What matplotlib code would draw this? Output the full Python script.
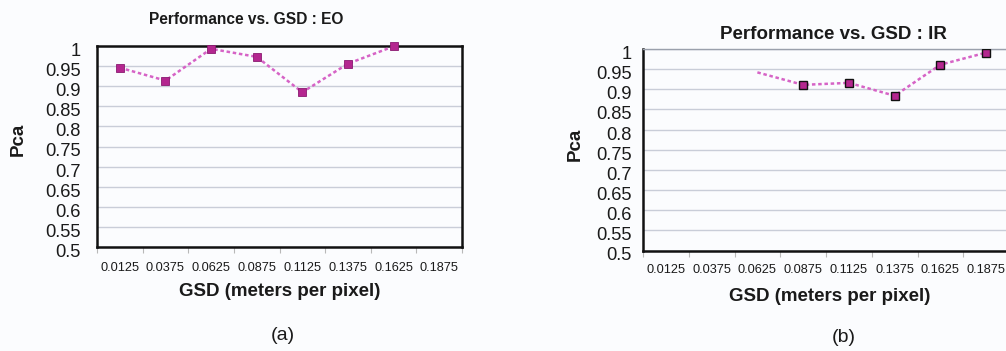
import numpy as np
import matplotlib
matplotlib.use("Agg")
import matplotlib.pyplot as plt
from matplotlib.transforms import ScaledTranslation

plt.rcParams['font.family'] = ['Liberation Sans', 'DejaVu Sans']

gsd_labels = ['0.0125', '0.0375', '0.0625', '0.0875', '0.1125', '0.1375', '0.1625', '0.1875']
eo_pca = [0.946, 0.914, 0.993, 0.973, 0.885, 0.956, 0.999, np.nan]
ir_pca = [np.nan, np.nan, 0.942, 0.911, 0.916, 0.884, 0.961, 0.991]
ir_marked = [3, 4, 5, 6, 7]
y_ticks = [0.5, 0.55, 0.6, 0.65, 0.7, 0.75, 0.8, 0.85, 0.9, 0.95, 1.0]
y_labels = ['0.5', '0.55', '0.6', '0.65', '0.7', '0.75', '0.8', '0.85', '0.9', '0.95', '1']

BG = '#fbfcfe'
GRID = '#c9cdd8'
LINE = '#d663c6'
MARK = '#b4268f'
TXT = '#1a1a1a'

fig = plt.figure(figsize=(10.06, 3.51), dpi=100, facecolor=BG)

ax_eo = fig.add_axes([97/1006, 1-247/351, 365/1006, 201/351])
ax_ir = fig.add_axes([643/1006, 1-250.5/351, 366/1006, 201.5/351])

def style_axes(ax, ytick_pad, xtick_pad):
    ax.set_facecolor(BG)
    n = len(gsd_labels)
    x = np.arange(n)
    ax.set_xlim(-0.5, n - 0.5)
    ax.set_ylim(0.5, 1.0)
    ax.set_xticks(x)
    ax.set_xticklabels(gsd_labels, fontsize=9.2, color=TXT)
    ax.set_xticks(np.arange(n + 1) - 0.5, minor=True)
    ax.tick_params(axis='x', which='major', length=0, pad=xtick_pad)
    ax.tick_params(axis='x', which='minor', length=4, color='#b8b8b8', width=0.8)
    ax.set_yticks(y_ticks)
    ax.set_yticklabels(y_labels, fontsize=13.2, color=TXT)
    ax.tick_params(axis='y', length=0, pad=ytick_pad)
    for lbl in ax.get_yticklabels():
        lbl.set_transform(lbl.get_transform() + ScaledTranslation(0, -3.5/100, fig.dpi_scale_trans))
    ax.grid(axis='y', color=GRID, linewidth=1.0)
    ax.set_axisbelow(True)
    ax.set_xlabel('GSD (meters per pixel)', fontsize=13.5, fontweight='bold', color=TXT, va='center')
    ax.set_ylabel('Pca', fontsize=13.5, fontweight='bold', color=TXT, va='center')

x = np.arange(len(gsd_labels))

# EO chart
style_axes(ax_eo, ytick_pad=11.5, xtick_pad=10.5)
ax_eo.plot(x, eo_pca, linestyle=(0, (1.4, 1.1)), color=LINE, linewidth=1.8,
           marker='s', markersize=6.2, markerfacecolor=MARK, markeredgecolor='#8a1a70',
           markeredgewidth=0.6, zorder=3, clip_on=False)
for side in ['top', 'right', 'left', 'bottom']:
    ax_eo.spines[side].set_color('#111111')
    ax_eo.spines[side].set_linewidth(1.8)
ax_eo.set_title('Performance vs. GSD : EO', fontsize=11.2, fontweight='bold',
                color=TXT, x=0.41, pad=16)
ax_eo.xaxis.set_label_coords(0.5, -0.222)
ax_eo.yaxis.set_label_coords(-0.216, 0.537)

# IR chart
style_axes(ax_ir, ytick_pad=8, xtick_pad=9.5)
ax_ir.plot(x, ir_pca, linestyle=(0, (1.4, 1.1)), color=LINE, linewidth=1.8, zorder=3)
ax_ir.plot(x[ir_marked], np.array(ir_pca)[ir_marked], linestyle='none',
           marker='s', markersize=6, markerfacecolor=MARK, markeredgecolor='#111111',
           markeredgewidth=1.0, zorder=4)
ax_ir.spines['left'].set_color('#111111')
ax_ir.spines['left'].set_linewidth(1.8)
ax_ir.spines['bottom'].set_color('#111111')
ax_ir.spines['bottom'].set_linewidth(1.8)
ax_ir.spines['top'].set_color('#9aa0ac')
ax_ir.spines['top'].set_linewidth(1.0)
ax_ir.spines['right'].set_visible(False)
ax_ir.set_title('Performance vs. GSD : IR', fontsize=13.5, fontweight='bold',
                color=TXT, x=0.52, pad=7)
ax_ir.xaxis.set_label_coords(0.51, -0.229)
ax_ir.yaxis.set_label_coords(-0.186, 0.529)

fig.text(283/1006, 1-336/351, '(a)', fontsize=14, color=TXT, ha='center', va='center')
fig.text(844/1006, 1-337/351, '(b)', fontsize=14, color=TXT, ha='center', va='center')

fig.savefig('out.png', dpi=100, facecolor=BG)
